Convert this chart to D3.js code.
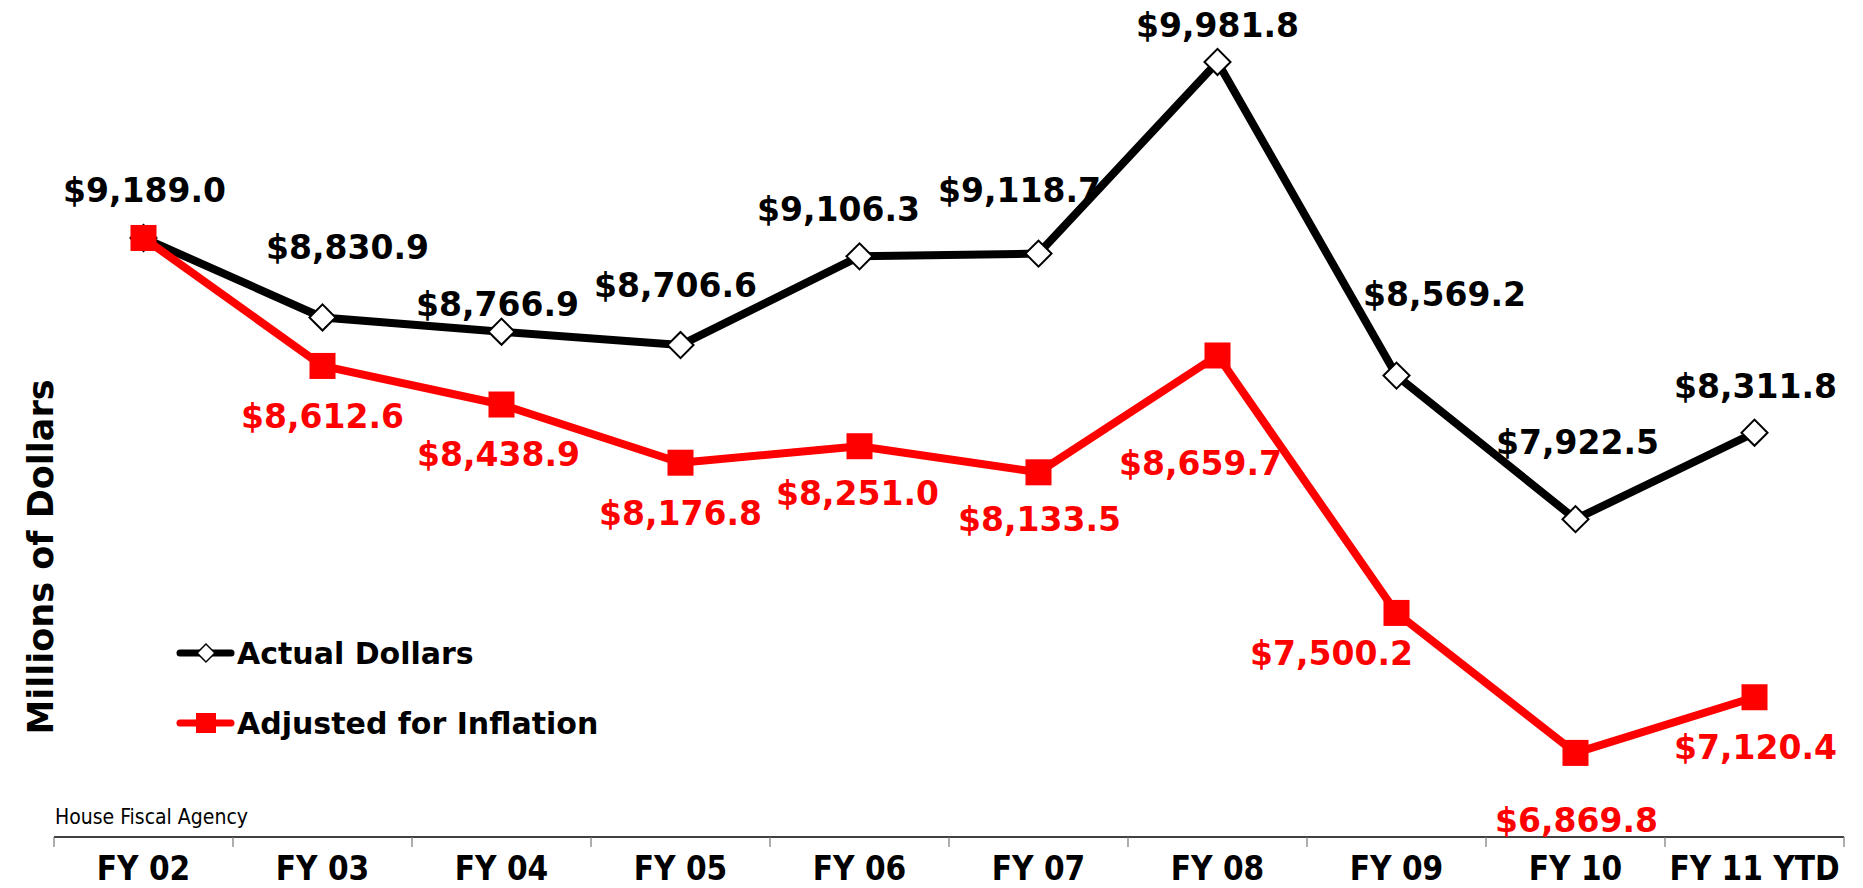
<!DOCTYPE html>
<html>
<head>
<meta charset="utf-8">
<script src="https://cdn.jsdelivr.net/npm/d3@7"></script>
<style>
  body { margin: 0; background: #fff; }
  text { font-family: "DejaVu Sans", sans-serif; font-weight: bold; }
</style>
</head>
<body>
<div id="chart"></div>
<script>
var categories = ["FY 02", "FY 03", "FY 04", "FY 05", "FY 06", "FY 07", "FY 08", "FY 09", "FY 10", "FY 11 YTD"];
var actualDollars = [9189.0, 8830.9, 8766.9, 8706.6, 9106.3, 9118.7, 9981.8, 8569.2, 7922.5, 8311.8];
var adjustedDollars = [9189.0, 8612.6, 8438.9, 8176.8, 8251.0, 8133.5, 8659.7, 7500.2, 6869.8, 7120.4];

// label nudges (dx, dy from the marker), like hand-placed excel labels
var actualLabelOffsets = [[1, -48], [25, -70], [-4, -28], [-5, -60], [-21, -47], [-19, -64], [0, -37], [48, -82], [2, -77], [1, -47]];
var adjustedLabelOffsets = [null, [0, 50], [-3, 49], [0, 50], [-2, 47], [1, 47], [-17, 108], [-65, 40], [1, 67], [1, 50]];

var width = 1863, height = 888;
var axisY = 837;

var svg = d3.select("#chart").append("svg")
    .attr("width", width)
    .attr("height", height);

var x = d3.scaleBand()
    .domain(categories)
    .range([54, 1844]);

var y = d3.scaleLinear()
    .domain([6500, 10250])
    .range([835, 2.4]);

var fmt = function(v) { return "$" + d3.format(",.1f")(v); };

// y title
svg.append("text")
    .attr("transform", "translate(53," + 557 + ") rotate(-90)")
    .attr("text-anchor", "middle")
    .style("font-size", "35px")
    .text("Millions of Dollars");

// source note
svg.append("text")
    .attr("x", 55)
    .attr("y", 824)
    .style("font-family", "'DejaVu Sans Condensed', 'DejaVu Sans', sans-serif")
    .style("font-weight", "normal")
    .style("font-size", "21px")
    .text("House Fiscal Agency");

// x axis
var xAxis = svg.append("g")
    .attr("transform", "translate(0," + axisY + ")");
xAxis.append("line")
    .attr("x1", x.range()[0]).attr("x2", x.range()[1])
    .attr("stroke", "#000").attr("stroke-width", 1.5);
var bounds = categories.map(function(c) { return x(c); }).concat([x.range()[1]]);
xAxis.selectAll(".tick")
    .data(bounds)
    .enter().append("line")
    .attr("x1", function(d) { return d; })
    .attr("x2", function(d) { return d; })
    .attr("y1", 0).attr("y2", 10)
    .attr("stroke", "#777").attr("stroke-width", 1.2);
xAxis.selectAll(".cat")
    .data(categories)
    .enter().append("text")
    .attr("x", function(d) { return x(d) + x.bandwidth() / 2; })
    .attr("y", 43)
    .attr("text-anchor", "middle")
    .style("font-family", "'DejaVu Sans Condensed', 'DejaVu Sans', sans-serif")
    .style("font-size", "33px")
    .text(function(d) { return d; });

function cx(i) { return x(categories[i]) + x.bandwidth() / 2; }

var line = d3.line()
    .x(function(d, i) { return cx(i); })
    .y(function(d) { return y(d); });

// actual dollars
svg.append("path")
    .datum(actualDollars)
    .attr("d", line)
    .attr("fill", "none")
    .attr("stroke", "#000")
    .attr("stroke-width", 8)
    .attr("stroke-linejoin", "round");

var diamond = d3.symbol().type(d3.symbolSquare).size(340);
svg.selectAll(".diamond")
    .data(actualDollars)
    .enter().append("path")
    .attr("d", diamond)
    .attr("transform", function(d, i) { return "translate(" + cx(i) + "," + y(d) + ") rotate(45)"; })
    .attr("fill", "#fff")
    .attr("stroke", "#000")
    .attr("stroke-width", 2);

// adjusted for inflation
svg.append("path")
    .datum(adjustedDollars)
    .attr("d", line)
    .attr("fill", "none")
    .attr("stroke", "#ff0000")
    .attr("stroke-width", 8)
    .attr("stroke-linejoin", "round");

svg.selectAll(".sq")
    .data(adjustedDollars)
    .enter().append("rect")
    .attr("x", function(d, i) { return cx(i) - 13; })
    .attr("y", function(d) { return y(d) - 13; })
    .attr("width", 26)
    .attr("height", 26)
    .attr("fill", "#ff0000");

// data labels
function labelData(values, offsets) {
  var out = [];
  values.forEach(function(v, i) {
    if (offsets[i]) out.push({ v: v, i: i, off: offsets[i] });
  });
  return out;
}

svg.selectAll(".lblA")
    .data(labelData(actualDollars, actualLabelOffsets))
    .enter().append("text")
    .attr("x", function(d) { return cx(d.i) + d.off[0]; })
    .attr("y", function(d) { return y(d.v) + d.off[1] + 12; })
    .attr("text-anchor", "middle")
    .style("font-size", "33px")
    .attr("fill", "#000")
    .text(function(d) { return fmt(d.v); });

svg.selectAll(".lblR")
    .data(labelData(adjustedDollars, adjustedLabelOffsets))
    .enter().append("text")
    .attr("x", function(d) { return cx(d.i) + d.off[0]; })
    .attr("y", function(d) { return y(d.v) + d.off[1] + 12; })
    .attr("text-anchor", "middle")
    .style("font-size", "33px")
    .attr("fill", "#ff0000")
    .text(function(d) { return fmt(d.v); });

// legend
var legend = svg.append("g");
var legendItems = [
  { name: "Actual Dollars", color: "#000", y: 653, marker: "diamond" },
  { name: "Adjusted for Inflation", color: "#ff0000", y: 723, marker: "square" }
];
legendItems.forEach(function(it) {
  legend.append("line")
      .attr("x1", 180).attr("x2", 231)
      .attr("y1", it.y).attr("y2", it.y)
      .attr("stroke", it.color)
      .attr("stroke-width", 7)
      .attr("stroke-linecap", "round");
  if (it.marker === "diamond") {
    legend.append("path")
        .attr("d", d3.symbol().type(d3.symbolSquare).size(160))
        .attr("transform", "translate(206," + it.y + ") rotate(45)")
        .attr("fill", "#fff").attr("stroke", "#000").attr("stroke-width", 1.5);
  } else {
    legend.append("rect")
        .attr("x", 196).attr("y", it.y - 10)
        .attr("width", 20).attr("height", 20)
        .attr("fill", it.color);
  }
  legend.append("text")
      .attr("x", 237)
      .attr("y", it.y + 11)
      .style("font-size", "30px")
      .text(it.name);
});
</script>
</body>
</html>
